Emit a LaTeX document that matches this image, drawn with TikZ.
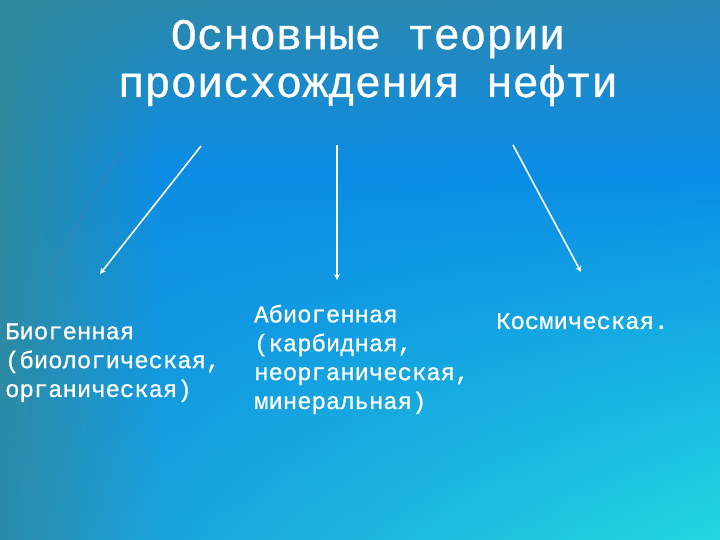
\documentclass[tikz,border=0pt]{standalone}
\usepackage{fontspec}
\newfontfamily\courfont[FakeBold=0.7]{Liberation Mono}
\usetikzlibrary{positioning,shadings}
\definecolor{bgtl}{HTML}{2E8A9E}
\definecolor{bgtm}{HTML}{2C88AA}
\definecolor{bgtr}{HTML}{2A88B8}
\definecolor{bgml}{HTML}{2E8AA0}
\definecolor{bgmm}{HTML}{0A8CE4}
\definecolor{bgmr}{HTML}{0A8CE6}
\definecolor{bgbl}{HTML}{2A8AA8}
\definecolor{bgbm}{HTML}{1AA4DC}
\definecolor{bgbr}{HTML}{22D8E0}
\definecolor{faintline}{HTML}{4E7DB8}
\tikzset{theory text/.style={font=\courfont\fontsize{24}{29}\selectfont, text=white, align=left, inner sep=0pt, anchor=base west},
title text/.style={font=\courfont\fontsize{44}{48}\selectfont, text=white, align=center, inner sep=0pt, anchor=base},
theory arrow/.style={white, line width=1.6pt, -stealth}}

\begin{document}
\begin{tikzpicture}[x=1bp,y=1bp]
\useasboundingbox (0,0) rectangle (720,540);
\shade[upper left=bgtl, upper right=bgtm, lower left=bgml, lower right=bgmm] (0,370) rectangle (161,540);
\shade[upper left=bgtm, upper right=bgtr, lower left=bgmm, lower right=bgmr] (160,370) rectangle (720,540);
\shade[upper left=bgml, upper right=bgmm, lower left=bgbl, lower right=bgbm] (0,0) rectangle (161,371);
\shade[upper left=bgmm, upper right=bgmr, lower left=bgbm, lower right=bgbr] (160,0) rectangle (720,371);
\node[title text] (title) at (368,443) {Основные теории\\происхождения нефти};
\node[theory text] (bio) at (5,143) {Биогенная\\(биологическая,\\органическая)};
\node[theory text] (abio) at (254,131) {Абиогенная\\(карбидная,\\неорганическая,\\минеральная)};
\node[theory text] (kosm) at (496,211) {Космическая.};
\coordinate (f1) at (120,388);
\coordinate (f2) at (48,265);
\coordinate (a1) at (201,394);
\coordinate (b1) at (100,266);
\coordinate (a2) at (337,395);
\coordinate (b2) at (337,260);
\coordinate (a3) at (513,395);
\coordinate (b3) at (581,268);
\draw[faintline, opacity=0.7, line width=1pt] (f1) -- (f2);
\draw[theory arrow] (a1) -- (b1);
\draw[theory arrow] (a2) -- (b2);
\draw[theory arrow] (a3) -- (b3);
\end{tikzpicture}
\end{document}
